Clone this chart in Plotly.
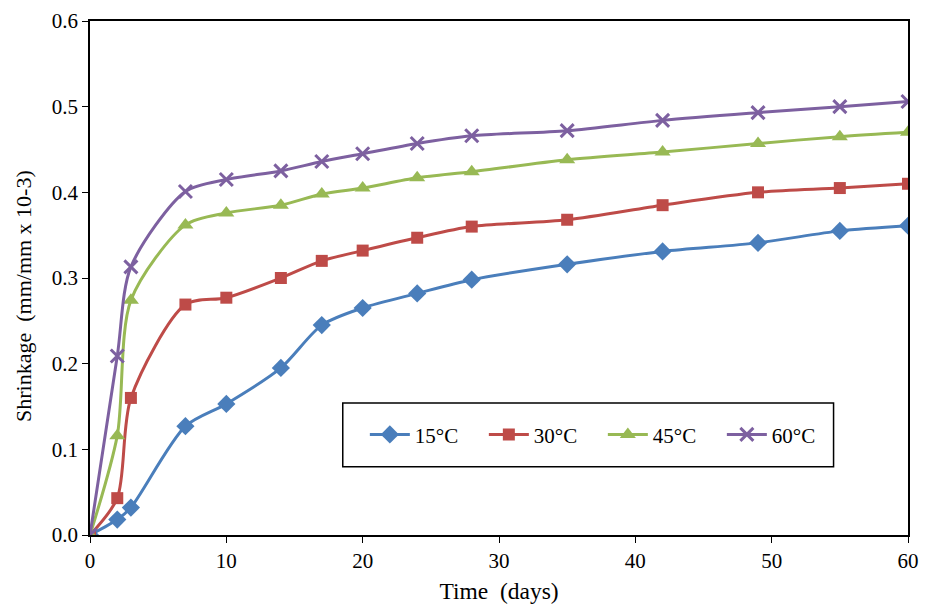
import plotly.graph_objects as go

days = [0, 2, 3, 7, 10, 14, 17, 20, 24, 28, 35, 42, 49, 55, 60]
t15 = [0, 0.018, 0.032, 0.127, 0.153, 0.195, 0.245, 0.265, 0.282, 0.298,
       0.316, 0.331, 0.341, 0.355, 0.361]
t30 = [0, 0.043, 0.160, 0.269, 0.277, 0.300, 0.320, 0.332, 0.347, 0.360,
       0.368, 0.385, 0.400, 0.405, 0.410]
t45 = [0, 0.116, 0.274, 0.362, 0.376, 0.385, 0.398, 0.405, 0.417, 0.424,
       0.438, 0.447, 0.457, 0.465, 0.470]
t60 = [0, 0.209, 0.313, 0.401, 0.415, 0.425, 0.436, 0.445, 0.457, 0.466,
       0.472, 0.484, 0.493, 0.500, 0.506]

font = '"Liberation Serif", "Times New Roman", serif'

fig = go.Figure()
fig.add_trace(go.Scatter(x=days, y=t15, name='15°C', mode='lines+markers',
                         line=dict(color='#4A7EBB', width=3, shape='spline', smoothing=0.8),
                         marker=dict(symbol='diamond', size=14, color='#4A7EBB')))
fig.add_trace(go.Scatter(x=days, y=t30, name='30°C', mode='lines+markers',
                         line=dict(color='#BE4B48', width=3, shape='spline', smoothing=0.8),
                         marker=dict(symbol='square', size=12, color='#BE4B48')))
fig.add_trace(go.Scatter(x=days, y=t45, name='45°C', mode='lines+markers',
                         line=dict(color='#98B954', width=3, shape='spline', smoothing=0.8),
                         marker=dict(symbol='triangle-up', size=14, color='#98B954')))
fig.add_trace(go.Scatter(x=days, y=t60, name='60°C', mode='lines+markers',
                         line=dict(color='#7D60A0', width=3, shape='spline', smoothing=0.8),
                         marker=dict(symbol='x-thin', size=13, color='#7D60A0',
                                     line=dict(color='#7D60A0', width=3))))

# legend frame
fig.add_shape(type='rect', xref='paper', yref='paper',
              x0=0.309, x1=0.909, y0=0.133, y1=0.257,
              line=dict(color='black', width=1.5), fillcolor='white', layer='below')

# y title sits a bit below the middle of the axis, as in the original
fig.add_annotation(text='Shrinkage\u00a0 (mm/mm x 10-3)', textangle=-90,
                   xref='paper', yref='paper', x=0, y=0.465, xshift=-66,
                   xanchor='center', yanchor='middle', showarrow=False,
                   font=dict(size=22))

fig.update_layout(
    width=925, height=600,
    margin=dict(l=82, r=25, t=13, b=73),
    plot_bgcolor='white', paper_bgcolor='white',
    font=dict(family=font, size=21, color='black'),
    showlegend=True,
    legend=dict(orientation='h', x=0.336, y=0.195, xanchor='left', yanchor='middle',
                bgcolor='rgba(0,0,0,0)', font=dict(size=21), entrywidth=64,
                itemwidth=40, tracegroupgap=0),
    xaxis=dict(title=dict(text='Time\u00a0 (days)', font=dict(size=23.5), standoff=11),
               range=[0, 60], dtick=10, tick0=0, showgrid=False, zeroline=False,
               showline=True, linecolor='black', linewidth=1.5, mirror=True,
               ticks='outside', ticklen=6, tickcolor='black', automargin=False,
               ticklabeloverflow='allow'),
    yaxis=dict(range=[0, 0.6], dtick=0.1, tick0=0, tickformat='.1f', showgrid=False,
               zeroline=False, showline=True, linecolor='black', linewidth=1.5,
               mirror=True, ticks='outside', ticklen=6, tickcolor='black', automargin=False,
               ticklabeloverflow='allow'),
)

fig.write_html('out.html')
